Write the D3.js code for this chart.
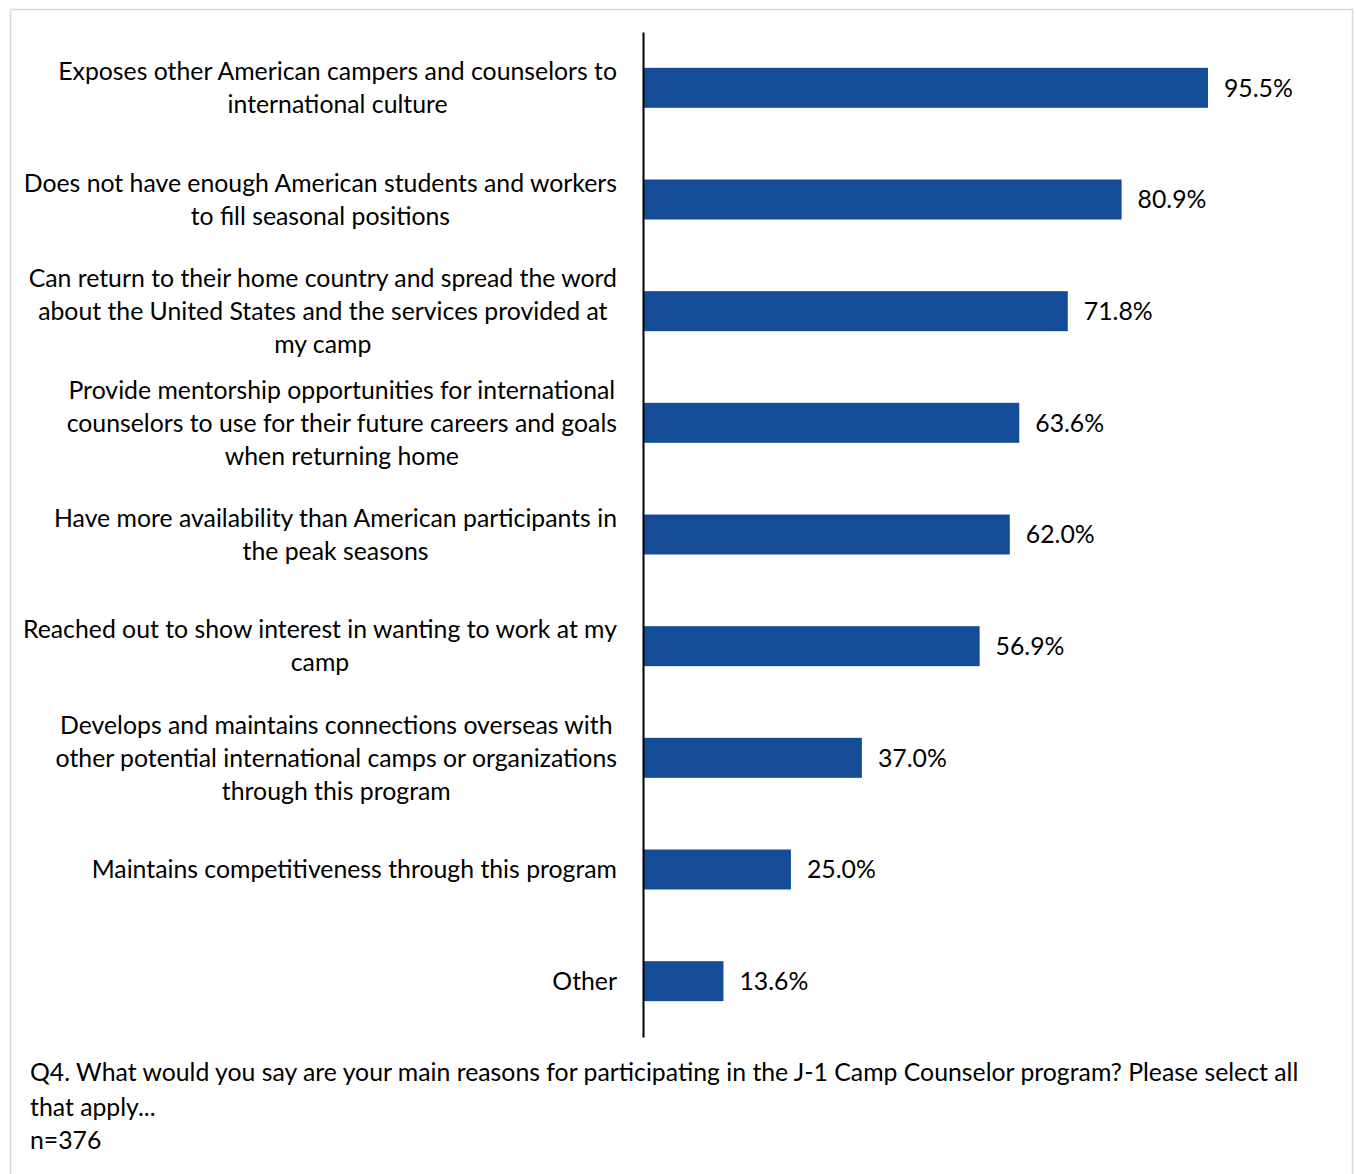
<!DOCTYPE html>
<html>
<head>
<meta charset="utf-8">
<script src="https://cdn.jsdelivr.net/npm/d3@7"></script>
<style>
  html, body { margin: 0; padding: 0; background: #fff; }
  svg { display: block; }
  text { font-family: Lato, "Open Sans", sans-serif; fill: #000; }
</style>
</head>
<body>
<svg id="chart" width="1356" height="1174"></svg>
<script>
// Reasons for taking part, one entry per bar (each entry = wrapped label lines)
const categories = [
  ["Exposes other American campers and counselors to", "international culture"],
  ["Does not have enough American students and workers", "to fill seasonal positions"],
  ["Can return to their home country and spread the word", "about the United States and the services provided at", "my camp"],
  ["Provide mentorship opportunities for international", "counselors to use for their future careers and goals", "when returning home"],
  ["Have more availability than American participants in", "the peak seasons"],
  ["Reached out to show interest in wanting to work at my", "camp"],
  ["Develops and maintains connections overseas with", "other potential international camps or organizations", "through this program"],
  ["Maintains competitiveness through this program"],
  ["Other"]
];
const values = [95.5, 80.9, 71.8, 63.6, 62.0, 56.9, 37.0, 25.0, 13.6];
const footnoteLines = [
  "Q4. What would you say are your main reasons for participating in the J-1 Camp Counselor program? Please select all",
  "that apply...",
  "n=376"
];

const svg = d3.select("#chart");
const W = 1356, H = 1174;

// outer frame (runs past the bottom edge of the page)
svg.append("rect")
  .attr("x", 10.5).attr("y", 9.5)
  .attr("width", 1342).attr("height", H)
  .attr("fill", "#fff").attr("stroke", "#d9d9d9").attr("stroke-width", 1.5);

const axisX = 643;
const plotTop = 32, plotBottom = 1037;

const x = d3.scaleLinear().domain([0, 100]).range([axisX, axisX + 591.6]);
const y = d3.scaleBand()
  .domain(d3.range(categories.length))
  .range([plotTop, plotBottom])
  .paddingInner(0.642)
  .paddingOuter(0.321);

const fontSize = 24.8;
const lineH = 33;

// bars
svg.append("g").selectAll("rect")
  .data(values)
  .join("rect")
  .attr("x", x(0))
  .attr("y", (d, i) => y(i))
  .attr("width", d => x(d) - x(0))
  .attr("height", y.bandwidth())
  .attr("fill", "#144c97");

// value labels
svg.append("g").selectAll("text")
  .data(values)
  .join("text")
  .attr("x", d => x(d) + 16)
  .attr("y", (d, i) => y(i) + y.bandwidth() / 2)
  .attr("dy", "0.35em")
  .attr("font-size", fontSize)
  .text(d => d.toFixed(1) + "%");

// vertical category axis (line only)
svg.append("g")
  .attr("transform", `translate(${axisX},0)`)
  .call(d3.axisLeft(y).tickSize(0).tickFormat(""))
  .call(g => g.select(".domain").attr("stroke", "#000").attr("stroke-width", 2));

// category labels: block right-aligned to the axis, lines centred within block
const labelRight = 617;
const lblG = svg.append("g");
categories.forEach((lines, i) => {
  const cy = y(i) + y.bandwidth() / 2;
  const g = lblG.append("g");
  const texts = lines.map((ln, j) => g.append("text")
    .attr("font-size", fontSize)
    .attr("text-anchor", "middle")
    .attr("y", cy + (j - (lines.length - 1) / 2) * lineH)
    .attr("dy", "0.35em")
    .text(ln));
  const maxW = d3.max(texts, t => t.node().getComputedTextLength());
  texts.forEach(t => t.attr("x", labelRight - maxW / 2));
});

// question text and sample size
svg.append("g").selectAll("text")
  .data(footnoteLines)
  .join("text")
  .attr("x", 30)
  .attr("y", (d, i) => [1072, 1107, 1140][i])
  .attr("dy", "0.35em")
  .attr("font-size", fontSize)
  .text(d => d);
</script>
</body>
</html>
